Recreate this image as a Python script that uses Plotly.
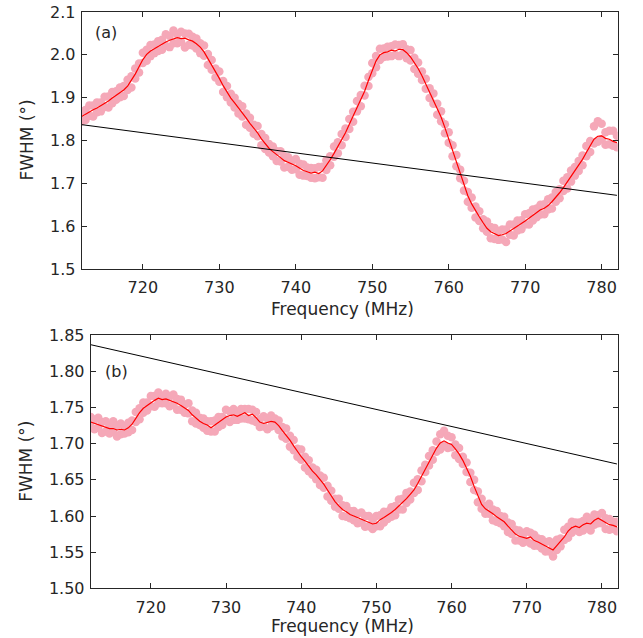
import plotly.graph_objects as go

# ---------------- data ----------------
# sampling grid of frequency (MHz), 0.5 MHz step from 712 to 782
freq = [712 + 0.5 * i for i in range(141)]

# panel (a): smoothed FWHM (red line)
fwhm_a_smooth = [
    1.856, 1.862, 1.867, 1.872, 1.876, 1.881, 1.886, 1.892, 1.899, 1.905,
    1.912, 1.918, 1.927, 1.940, 1.955, 1.972, 1.989, 2.001, 2.009, 2.014,
    2.020, 2.026, 2.030, 2.034, 2.037, 2.040, 2.038, 2.039, 2.035, 2.032,
    2.026, 2.018, 2.007, 1.992, 1.975, 1.960, 1.945, 1.928, 1.913, 1.899,
    1.888, 1.877, 1.865, 1.853, 1.840, 1.829, 1.818, 1.804, 1.792, 1.782,
    1.774, 1.766, 1.760, 1.753, 1.748, 1.745, 1.741, 1.735, 1.730, 1.727,
    1.724, 1.726, 1.723, 1.729, 1.741, 1.755, 1.770, 1.785, 1.801, 1.818,
    1.838, 1.858, 1.877, 1.896, 1.915, 1.940, 1.965, 1.986, 2.000, 2.005,
    2.007, 2.011, 2.009, 2.013, 2.012, 2.005, 1.995, 1.982, 1.968, 1.951,
    1.932, 1.913, 1.895, 1.876, 1.855, 1.830, 1.803, 1.778, 1.752, 1.722,
    1.694, 1.671, 1.652, 1.636, 1.622, 1.608, 1.595, 1.587, 1.582, 1.578,
    1.580, 1.583, 1.589, 1.594, 1.600, 1.606, 1.612, 1.619, 1.625, 1.631,
    1.638, 1.642, 1.648, 1.657, 1.667, 1.678, 1.690, 1.703, 1.716, 1.728,
    1.740, 1.756, 1.772, 1.789, 1.803, 1.810, 1.811, 1.805, 1.803, 1.798,
    1.795,
]
# panel (a): measured points, upper and lower parts of the scatter band
fwhm_a_meas_hi = [
    1.868, 1.871, 1.882, 1.882, 1.889, 1.889, 1.902, 1.903, 1.913, 1.915,
    1.924, 1.927, 1.942, 1.950, 1.968, 1.980, 2.005, 2.012, 2.023, 2.024,
    2.032, 2.035, 2.048, 2.044, 2.057, 2.048, 2.054, 2.050, 2.049, 2.042,
    2.038, 2.027, 2.022, 2.002, 1.988, 1.968, 1.961, 1.939, 1.927, 1.909,
    1.900, 1.886, 1.880, 1.863, 1.853, 1.837, 1.834, 1.815, 1.806, 1.792,
    1.786, 1.775, 1.775, 1.763, 1.761, 1.753, 1.757, 1.746, 1.744, 1.737,
    1.736, 1.735, 1.738, 1.739, 1.754, 1.763, 1.786, 1.796, 1.815, 1.828,
    1.850, 1.867, 1.892, 1.906, 1.928, 1.948, 1.981, 1.997, 2.014, 2.015,
    2.019, 2.020, 2.024, 2.023, 2.025, 2.013, 2.011, 1.993, 1.982, 1.961,
    1.944, 1.922, 1.910, 1.886, 1.868, 1.838, 1.819, 1.789, 1.766, 1.732,
    1.706, 1.680, 1.667, 1.646, 1.635, 1.616, 1.611, 1.598, 1.596, 1.588,
    1.592, 1.592, 1.604, 1.604, 1.613, 1.614, 1.628, 1.630, 1.639, 1.641,
    1.650, 1.651, 1.663, 1.667, 1.680, 1.686, 1.706, 1.714, 1.730, 1.738,
    1.752, 1.765, 1.787, 1.799, 1.833, 1.845, 1.839, 1.819, 1.823, 1.823,
    1.811,
]
fwhm_a_meas_lo = [
    1.845, 1.848, 1.858, 1.856, 1.866, 1.868, 1.878, 1.877, 1.887, 1.895,
    1.901, 1.904, 1.918, 1.924, 1.945, 1.959, 1.981, 1.986, 1.997, 2.004,
    2.009, 2.012, 2.021, 2.018, 2.027, 2.027, 2.030, 2.017, 2.023, 2.022,
    2.015, 2.004, 1.998, 1.976, 1.965, 1.947, 1.937, 1.913, 1.901, 1.889,
    1.877, 1.863, 1.856, 1.837, 1.830, 1.816, 1.810, 1.789, 1.780, 1.772,
    1.763, 1.752, 1.751, 1.737, 1.738, 1.732, 1.733, 1.720, 1.718, 1.717,
    1.713, 1.712, 1.714, 1.713, 1.731, 1.742, 1.762, 1.770, 1.789, 1.808,
    1.827, 1.844, 1.868, 1.880, 1.905, 1.927, 1.957, 1.971, 1.988, 1.995,
    1.996, 1.997, 2.000, 1.997, 2.002, 1.992, 1.987, 1.967, 1.956, 1.941,
    1.921, 1.899, 1.886, 1.860, 1.845, 1.817, 1.795, 1.763, 1.740, 1.712,
    1.683, 1.657, 1.643, 1.620, 1.612, 1.595, 1.587, 1.572, 1.570, 1.568,
    1.569, 1.563, 1.580, 1.578, 1.590, 1.593, 1.604, 1.604, 1.613, 1.621,
    1.627, 1.628, 1.639, 1.641, 1.657, 1.665, 1.682, 1.688, 1.704, 1.718,
    1.729, 1.742, 1.763, 1.773, 1.793, 1.797, 1.803, 1.790, 1.791, 1.788,
    1.784,
]

# panel (b): smoothed FWHM (red line)
fwhm_b_smooth = [
    1.730, 1.728, 1.727, 1.724, 1.723, 1.721, 1.721, 1.719, 1.720, 1.719,
    1.722, 1.727, 1.735, 1.743, 1.749, 1.753, 1.756, 1.760, 1.763, 1.761,
    1.762, 1.760, 1.759, 1.756, 1.753, 1.750, 1.746, 1.740, 1.735, 1.731,
    1.728, 1.726, 1.722, 1.726, 1.729, 1.733, 1.737, 1.739, 1.740, 1.738,
    1.741, 1.743, 1.739, 1.741, 1.736, 1.730, 1.728, 1.729, 1.731, 1.730,
    1.725, 1.718, 1.712, 1.705, 1.697, 1.689, 1.682, 1.676, 1.669, 1.662,
    1.657, 1.651, 1.644, 1.636, 1.627, 1.620, 1.614, 1.609, 1.606, 1.602,
    1.600, 1.598, 1.596, 1.594, 1.592, 1.589, 1.590, 1.595, 1.598, 1.601,
    1.605, 1.609, 1.614, 1.618, 1.624, 1.630, 1.636, 1.645, 1.655, 1.666,
    1.676, 1.686, 1.694, 1.701, 1.704, 1.701, 1.699, 1.693, 1.686, 1.677,
    1.667, 1.655, 1.641, 1.628, 1.616, 1.610, 1.607, 1.603, 1.599, 1.595,
    1.592, 1.586, 1.580, 1.575, 1.572, 1.570, 1.569, 1.571, 1.566, 1.564,
    1.561, 1.559, 1.556, 1.553, 1.559, 1.565, 1.571, 1.579, 1.584, 1.586,
    1.584, 1.588, 1.590, 1.589, 1.594, 1.597, 1.594, 1.591, 1.588, 1.587,
    1.585,
]
fwhm_b_meas_hi = [
    1.737, 1.733, 1.736, 1.730, 1.731, 1.725, 1.731, 1.725, 1.728, 1.724,
    1.729, 1.732, 1.744, 1.749, 1.757, 1.757, 1.766, 1.766, 1.771, 1.766,
    1.769, 1.765, 1.768, 1.762, 1.761, 1.754, 1.756, 1.746, 1.743, 1.736,
    1.735, 1.731, 1.731, 1.732, 1.737, 1.737, 1.747, 1.745, 1.748, 1.743,
    1.748, 1.748, 1.748, 1.747, 1.744, 1.734, 1.738, 1.735, 1.739, 1.735,
    1.732, 1.723, 1.721, 1.711, 1.705, 1.693, 1.692, 1.682, 1.677, 1.667,
    1.664, 1.656, 1.653, 1.642, 1.635, 1.624, 1.624, 1.615, 1.614, 1.607,
    1.607, 1.603, 1.605, 1.600, 1.600, 1.593, 1.600, 1.601, 1.606, 1.606,
    1.612, 1.614, 1.623, 1.624, 1.632, 1.634, 1.646, 1.651, 1.663, 1.671,
    1.683, 1.691, 1.703, 1.713, 1.718, 1.711, 1.709, 1.699, 1.694, 1.682,
    1.674, 1.660, 1.650, 1.634, 1.624, 1.614, 1.617, 1.609, 1.607, 1.600,
    1.599, 1.591, 1.589, 1.581, 1.580, 1.574, 1.579, 1.577, 1.574, 1.569,
    1.568, 1.564, 1.565, 1.559, 1.567, 1.569, 1.581, 1.585, 1.592, 1.591,
    1.591, 1.593, 1.599, 1.595, 1.602, 1.601, 1.604, 1.597, 1.596, 1.592,
    1.592,
]
fwhm_b_meas_lo = [
    1.724, 1.720, 1.722, 1.715, 1.717, 1.714, 1.717, 1.710, 1.713, 1.714,
    1.716, 1.719, 1.730, 1.734, 1.743, 1.746, 1.752, 1.751, 1.756, 1.756,
    1.756, 1.752, 1.754, 1.747, 1.747, 1.743, 1.742, 1.731, 1.728, 1.726,
    1.722, 1.718, 1.717, 1.717, 1.723, 1.726, 1.733, 1.730, 1.733, 1.733,
    1.735, 1.735, 1.734, 1.732, 1.730, 1.723, 1.724, 1.720, 1.724, 1.725,
    1.719, 1.710, 1.707, 1.696, 1.691, 1.682, 1.678, 1.667, 1.662, 1.657,
    1.651, 1.643, 1.639, 1.627, 1.621, 1.613, 1.610, 1.600, 1.599, 1.597,
    1.594, 1.590, 1.591, 1.585, 1.586, 1.582, 1.586, 1.586, 1.591, 1.596,
    1.599, 1.601, 1.609, 1.609, 1.618, 1.623, 1.632, 1.636, 1.648, 1.661,
    1.670, 1.678, 1.689, 1.692, 1.698, 1.694, 1.695, 1.684, 1.679, 1.672,
    1.661, 1.647, 1.636, 1.619, 1.610, 1.603, 1.603, 1.594, 1.592, 1.590,
    1.586, 1.578, 1.575, 1.566, 1.566, 1.563, 1.565, 1.562, 1.559, 1.559,
    1.555, 1.551, 1.551, 1.544, 1.553, 1.558, 1.567, 1.570, 1.577, 1.581,
    1.578, 1.580, 1.585, 1.580, 1.588, 1.590, 1.590, 1.582, 1.581, 1.582,
    1.579,
]

# reference (black) straight line, same in both panels
ref_freq = [712, 782]
ref_fwhm = [1.837, 1.672]

x_ticks = [720, 730, 740, 750, 760, 770, 780]
y_ticks_a = [1.5, 1.6, 1.7, 1.8, 1.9, 2.0, 2.1]
y_ticks_b = [1.50, 1.55, 1.60, 1.65, 1.70, 1.75, 1.80, 1.85]

# ---------------- style ----------------
W, H = 643, 638
PINK = "#F5A8B8"
RED = "#FF0000"
TXT = "#262626"
FONT = "DejaVu Sans"
TICK_FS = 16
LAB_FS = 17
MS = 8.5

fig = go.Figure()

def add_panel(xa, ya, hi, lo, smooth):
    for meas in (hi, lo):
        fig.add_trace(go.Scatter(
            x=freq, y=meas, mode="markers", xaxis=xa, yaxis=ya,
            marker=dict(color=PINK, size=MS, line=dict(width=0)),
            showlegend=False, hoverinfo="skip"))
    fig.add_trace(go.Scatter(
        x=freq, y=smooth, mode="lines", xaxis=xa, yaxis=ya,
        line=dict(color=RED, width=1.2), showlegend=False))
    fig.add_trace(go.Scatter(
        x=ref_freq, y=ref_fwhm, mode="lines", xaxis=xa, yaxis=ya,
        line=dict(color="black", width=1), showlegend=False))

add_panel("x", "y", fwhm_a_meas_hi, fwhm_a_meas_lo, fwhm_a_smooth)
add_panel("x2", "y2", fwhm_b_meas_hi, fwhm_b_meas_lo, fwhm_b_smooth)

def px(v):
    return v / W

def py(v):
    return 1 - v / H

common_axis = dict(
    showline=True, linecolor=TXT, linewidth=1, mirror="allticks",
    ticks="inside", ticklen=5, tickwidth=1, tickcolor=TXT,
    showgrid=False, zeroline=False, automargin=False,
    tickfont=dict(family=FONT, size=TICK_FS, color=TXT),
)

fig.update_layout(
    template="none",
    width=W, height=H,
    margin=dict(l=0, r=0, t=0, b=0, pad=0),
    paper_bgcolor="white", plot_bgcolor="white",
    xaxis=dict(domain=[px(81.7), px(617.7)], anchor="y", range=[712, 782.1],
               tickvals=x_ticks, ticklabelstandoff=4, **common_axis),
    yaxis=dict(domain=[py(269), py(12)], anchor="x", range=[1.5, 2.1],
               tickvals=y_ticks_a, tickformat=".1f", ticklabelstandoff=2,
               **common_axis),
    xaxis2=dict(domain=[px(90.7), px(617.7)], anchor="y2", range=[712, 782.1],
                tickvals=x_ticks, ticklabelstandoff=4, **common_axis),
    yaxis2=dict(domain=[py(588.3), py(335.3)], anchor="x2", range=[1.5, 1.85],
                tickvals=y_ticks_b, tickformat=".2f", ticklabelstandoff=2,
                **common_axis),
)

lab_font = dict(family=FONT, size=LAB_FS, color=TXT)
annotations = [
    dict(text="Frequency (MHz)", x=px(342.4), y=py(309), xref="paper", yref="paper",
         xanchor="center", yanchor="middle", showarrow=False, font=lab_font),
    dict(text="Frequency (MHz)", x=px(342.4), y=py(626), xref="paper", yref="paper",
         xanchor="center", yanchor="middle", showarrow=False, font=lab_font),
    dict(text="FWHM (°)", x=px(26), y=py(140.5), xref="paper", yref="paper",
         xanchor="center", yanchor="middle", textangle=-90, showarrow=False, font=lab_font),
    dict(text="FWHM (°)", x=px(26), y=py(461.8), xref="paper", yref="paper",
         xanchor="center", yanchor="middle", textangle=-90, showarrow=False, font=lab_font),
    dict(text="(a)", x=px(92.5), y=py(32.5), xref="paper", yref="paper",
         xanchor="left", yanchor="middle", showarrow=False,
         font=dict(family=FONT, size=TICK_FS, color=TXT)),
    dict(text="(b)", x=px(102.5), y=py(371.5), xref="paper", yref="paper",
         xanchor="left", yanchor="middle", showarrow=False,
         font=dict(family=FONT, size=TICK_FS, color=TXT)),
]
fig.update_layout(annotations=annotations)

# remove the browser's default page margin so the figure sits at (0, 0)
fig.write_html(
    "out.html",
    config={"displayModeBar": False},
    post_script="document.body.style.margin='0';document.body.style.padding='0';",
)
